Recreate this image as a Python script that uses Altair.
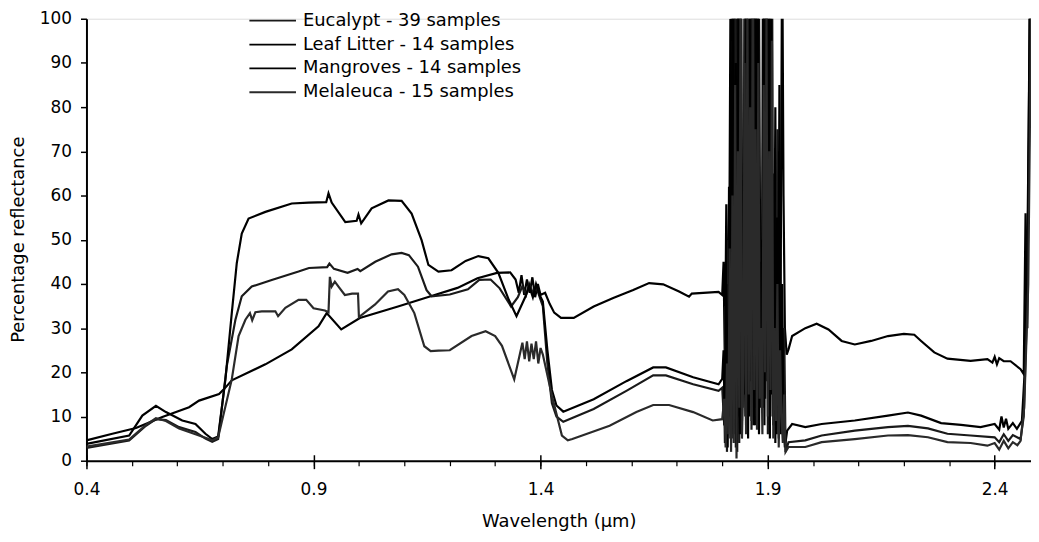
import altair as alt
import pandas as pd

# sample names as in the legend
names = ["Eucalypt - 39 samples", "Leaf Litter - 14 samples",
         "Mangroves - 14 samples", "Melaleuca - 15 samples"]

# wavelengths (um) of the noisy water band
noise_wl = [1.803, 1.806, 1.809, 1.812, 1.815, 1.818, 1.821, 1.824, 1.827, 1.830,
            1.833, 1.836, 1.839, 1.842, 1.845, 1.848, 1.851, 1.854, 1.857, 1.860,
            1.863, 1.866, 1.869, 1.872, 1.875, 1.878, 1.881, 1.884, 1.887, 1.890,
            1.893, 1.896, 1.899, 1.902, 1.905, 1.908, 1.911, 1.914, 1.917, 1.920,
            1.923, 1.926, 1.929, 1.932, 1.935, 1.938]
# the same band sampled half a step later (Eucalypt, Melaleuca)
noise_wl_alt = [1.8045, 1.8075, 1.8105, 1.8135, 1.8165, 1.8195, 1.8225, 1.8255, 1.8285, 1.8315,
                1.8345, 1.8375, 1.8405, 1.8435, 1.8465, 1.8495, 1.8525, 1.8555, 1.8585, 1.8615,
                1.8645, 1.8675, 1.8705, 1.8735, 1.8765, 1.8795, 1.8825, 1.8855, 1.8885, 1.8915,
                1.8945, 1.8975, 1.9005, 1.9035, 1.9065, 1.9095, 1.9125, 1.9155, 1.9185, 1.9215,
                1.9245, 1.9275, 1.9305, 1.9335, 1.9365, 1.9395]

# Eucalypt
euc_wl_1 = [0.40, 0.494, 0.531, 0.553, 0.575, 0.604, 0.64, 0.662, 0.677, 0.69,
            0.709, 0.728, 0.742, 0.764, 0.808, 0.867, 0.89, 0.93, 0.935, 0.945,
            0.975, 0.997, 1.003, 1.036, 1.072, 1.094, 1.11, 1.13, 1.149, 1.16,
            1.2, 1.24, 1.265, 1.29, 1.31, 1.335, 1.35, 1.36, 1.368, 1.375,
            1.383, 1.39, 1.398, 1.405, 1.415, 1.425, 1.435, 1.45, 1.517, 1.589,
            1.648, 1.676, 1.736, 1.792, 1.80]
euc_pct_1 = [2.9, 4.6, 7.9, 9.4, 9.2, 7.6, 6.5, 5.0, 4.3, 4.9,
             21.4, 31.9, 37.2, 39.4, 40.9, 42.8, 43.6, 43.8, 44.6, 43.4,
             42.5, 43.4, 42.9, 45.0, 46.7, 47.0, 46.5, 43.9, 38.6, 37.2,
             37.6, 38.8, 40.9, 41.0, 39.0, 34.9, 37.0, 39.5, 37.5, 40.0,
             38.0, 39.5, 37.0, 35.0, 22.0, 13.0, 10.0, 8.8, 11.7, 15.8,
             19.3, 19.3, 17.3, 15.8, 16.5]
euc_noise = [8, 35, 2, 50, 10, 28, 95, 6, 110, 14,
             102, 4, 85, 9, 30, 120, 8, 95, 22, 118,
             7, 90, 26, 140, 10, 100, 28, 12, 40, 105,
             14, 125, 6, 95, 25, 130, 8, 45, 14, 75,
             5, 50, 18, 8, 30, 2]
euc_wl_2 = [1.946, 1.983, 2.019, 2.092, 2.165, 2.209, 2.253, 2.296, 2.347, 2.40,
            2.41, 2.42, 2.43, 2.44, 2.457, 2.464, 2.47, 2.476, 2.48]
euc_pct_2 = [4.2, 4.6, 5.7, 6.8, 7.6, 7.9, 7.3, 6.1, 5.7, 5.3,
             4.2, 6.0, 4.5, 5.8, 4.9, 10.0, 30.0, 75.0, 105.0]

# Leaf litter
leaf_wl_1 = [0.40, 0.457, 0.509, 0.567, 0.626, 0.648, 0.692, 0.703, 0.72, 0.794,
             0.852, 0.911, 0.929, 0.961, 1.002, 1.086, 1.158, 1.217, 1.261, 1.304,
             1.333, 1.345, 1.352, 1.358, 1.364, 1.37, 1.376, 1.382, 1.388, 1.394,
             1.40, 1.41, 1.42, 1.43, 1.445, 1.473, 1.517, 1.560, 1.604, 1.639,
             1.670, 1.705, 1.727, 1.733, 1.792, 1.80]
leaf_pct_1 = [4.6, 6.1, 7.4, 9.9, 12.1, 13.6, 15.1, 16.2, 18.2, 21.8,
              25.2, 30.4, 33.4, 29.7, 32.3, 34.9, 37.2, 39.1, 41.3, 42.5,
              42.6, 41.0, 38.0, 42.0, 37.5, 41.0, 38.0, 41.5, 37.0, 40.0,
              37.5, 38.0, 35.5, 33.5, 32.3, 32.3, 34.9, 36.8, 38.6, 40.2,
              39.9, 38.3, 37.1, 37.8, 38.2, 37.5]
leaf_noise = [45, 20, 58, 8, 62, 5, 110, 12, 130, 3,
              120, 10, 140, 20, 40, 15, 150, 25, 120, 10,
              135, 30, 110, 8, 140, 20, 105, 35, 50, 12,
              130, 18, 115, 9, 125, 15, 60, 22, 80, 6,
              70, 15, 45, 120, 60, 30]
leaf_wl_2 = [1.942, 1.946, 1.954, 1.983, 2.008, 2.034, 2.063, 2.092, 2.128, 2.165,
             2.2, 2.223, 2.238, 2.267, 2.296, 2.347, 2.384, 2.395, 2.40, 2.405,
             2.41, 2.42, 2.435, 2.457, 2.464, 2.468, 2.472, 2.477]
leaf_pct_2 = [24.0, 25.2, 28.2, 30.0, 31.0, 29.7, 27.1, 26.3, 27.1, 28.2,
              28.7, 28.5, 27.1, 24.5, 23.1, 22.6, 23.0, 22.2, 23.5, 21.8,
              23.2, 22.5, 22.5, 20.7, 19.6, 56.0, 30.0, 105.0]

# Mangroves
mang_wl_1 = [0.40, 0.494, 0.523, 0.553, 0.575, 0.611, 0.64, 0.662, 0.677, 0.69,
             0.706, 0.72, 0.731, 0.742, 0.757, 0.794, 0.852, 0.889, 0.928, 0.933,
             0.94, 0.97, 0.995, 0.999, 1.005, 1.028, 1.065, 1.094, 1.116, 1.138,
             1.153, 1.175, 1.204, 1.235, 1.263, 1.285, 1.307, 1.33, 1.347, 1.367,
             1.375, 1.383, 1.39, 1.398, 1.405, 1.415, 1.425, 1.435, 1.45, 1.517,
             1.589, 1.648, 1.676, 1.736, 1.792, 1.80]
mang_pct_1 = [3.8, 5.7, 10.2, 12.4, 11.0, 9.1, 8.3, 6.1, 4.9, 5.5,
              18.4, 33.4, 44.7, 51.4, 54.8, 56.3, 58.2, 58.4, 58.5, 60.5,
              58.4, 54.0, 54.3, 55.7, 53.7, 57.1, 58.9, 58.8, 55.9, 49.9,
              44.3, 42.8, 43.1, 45.2, 46.3, 45.8, 42.5, 36.4, 32.7, 37.2,
              39.5, 37.0, 40.0, 37.5, 36.0, 25.0, 16.0, 12.5, 11.1, 13.9,
              18.0, 21.1, 21.1, 18.9, 17.3, 18.5]
mang_noise = [25, 4, 40, 3, 35, 100, 5, 115, 8, 90,
              2, 125, 6, 105, 12, 55, 10, 140, 5, 100,
              18, 130, 8, 115, 12, 125, 6, 45, 15, 120,
              8, 110, 20, 135, 5, 100, 10, 65, 4, 55,
              12, 85, 6, 40, 8, 3]
mang_wl_2 = [1.943, 1.954, 1.983, 2.019, 2.092, 2.165, 2.209, 2.238, 2.282, 2.326,
             2.369, 2.40, 2.41, 2.415, 2.42, 2.425, 2.43, 2.44, 2.449, 2.46,
             2.466, 2.472, 2.478]
mang_pct_2 = [6.8, 8.3, 7.6, 8.3, 9.1, 10.2, 10.9, 10.2, 8.5, 8.1,
              7.6, 8.3, 7.0, 10.0, 7.5, 9.5, 7.2, 8.5, 7.2, 9.0,
              20.0, 48.0, 105.0]

# Melaleuca
mel_wl_1 = [0.40, 0.494, 0.531, 0.553, 0.575, 0.604, 0.64, 0.662, 0.677, 0.69,
            0.72, 0.735, 0.75, 0.76, 0.765, 0.772, 0.786, 0.816, 0.822, 0.838,
            0.867, 0.884, 0.90, 0.925, 0.933, 0.936, 0.94, 0.947, 0.955, 0.969,
            0.985, 0.998, 1.0, 1.035, 1.064, 1.086, 1.1, 1.122, 1.144, 1.158,
            1.175, 1.2, 1.248, 1.279, 1.3, 1.315, 1.342, 1.36, 1.365, 1.37,
            1.375, 1.38, 1.385, 1.39, 1.395, 1.40, 1.405, 1.425, 1.447, 1.46,
            1.47, 1.552, 1.611, 1.648, 1.683, 1.736, 1.779, 1.80]
mel_pct_1 = [3.2, 4.8, 8.1, 9.6, 9.0, 7.3, 6.0, 5.2, 4.6, 5.3,
             18.4, 28.2, 31.9, 33.4, 31.8, 33.6, 33.8, 33.8, 32.7, 34.6,
             36.4, 36.4, 34.5, 34.0, 33.6, 41.6, 39.4, 40.5, 39.4, 37.5,
             37.8, 37.8, 32.5, 35.3, 38.3, 38.8, 37.5, 33.4, 25.9, 24.8,
             24.9, 25.0, 28.2, 29.3, 28.2, 26.0, 18.4, 26.7, 23.0, 27.0,
             22.5, 26.5, 23.0, 27.0, 22.0, 25.5, 24.0, 14.7, 5.7, 4.6,
             4.9, 7.9, 11.0, 12.6, 12.6, 11.0, 9.1, 9.4]
mel_noise = [14, 3, 22, 6, 48, 2, 60, 4, 85, 0.5,
             70, 12, 115, 5, 20, 90, 6, 105, 15, 80,
             9, 125, 16, 75, 7, 90, 14, 30, 6, 85,
             20, 100, 10, 70, 16, 95, 5, 30, 9, 40,
             3, 25, 10, 4, 15, 2]
mel_wl_2 = [1.946, 1.983, 2.019, 2.092, 2.165, 2.209, 2.253, 2.296, 2.347, 2.384,
            2.40, 2.41, 2.42, 2.43, 2.44, 2.45, 2.457, 2.465, 2.474, 2.48]
mel_pct_2 = [3.1, 3.1, 4.2, 4.9, 5.7, 5.8, 5.3, 4.2, 4.0, 3.4,
             4.0, 2.5, 4.5, 2.8, 4.2, 3.5, 4.5, 12.0, 40.0, 100.0]

major_ticks = [0.4, 0.9, 1.4, 1.9, 2.4]
minor_ticks = [0.4, 0.5, 0.6, 0.7, 0.8, 0.9, 1.0, 1.1, 1.2, 1.3, 1.4,
               1.5, 1.6, 1.7, 1.8, 1.9, 2.0, 2.1, 2.2, 2.3, 2.4]
y_ticks = [0, 10, 20, 30, 40, 50, 60, 70, 80, 90, 100]

series = [
    (names[0], euc_wl_1, euc_pct_1, noise_wl_alt, euc_noise, euc_wl_2, euc_pct_2),
    (names[1], leaf_wl_1, leaf_pct_1, noise_wl, leaf_noise, leaf_wl_2, leaf_pct_2),
    (names[2], mang_wl_1, mang_pct_1, noise_wl, mang_noise, mang_wl_2, mang_pct_2),
    (names[3], mel_wl_1, mel_pct_1, noise_wl_alt, mel_noise, mel_wl_2, mel_pct_2),
]
frames = []
for name, wl1, p1, nwl, noise, wl2, p2 in series:
    frames.append(pd.DataFrame({
        "wavelength": wl1 + nwl + wl2,
        "reflectance": p1 + noise + p2,
        "sample": name,
    }))
data = pd.concat(frames, ignore_index=True)

FONT = "DejaVu Sans"

x_scale = alt.Scale(domain=[0.4, 2.48], nice=False, zero=False)
y_scale = alt.Scale(domain=[0, 100], nice=False)

y_axis = alt.Axis(
    values=y_ticks, tickSize=6, tickWidth=1.5, tickColor="black",
    domainColor="black", domainWidth=2, grid=False,
    labelFont=FONT, labelFontSize=17, labelColor="black", labelPadding=9,
    title="Percentage reflectance", titleFont=FONT, titleFontSize=18,
    titleFontWeight="normal", titleColor="black", titleAngle=270,
    titleX=-68, titleY=222, titleBaseline="middle", titleAlign="center",
)

# labelled, longer ticks that cross the axis line
major_axis = alt.Axis(
    values=major_ticks, format=".1f", orient="bottom", offset=-6,
    domain=False, tickSize=14, tickWidth=1.5, tickColor="black", grid=False,
    labelFont=FONT, labelFontSize=17, labelColor="black", labelPadding=13,
    labelFlush=False,
    title="Wavelength (µm)", titleFont=FONT, titleFontSize=18,
    titleFontWeight="normal", titleColor="black", titleY=67,
    titleBaseline="middle",
)

# small ticks every 0.1 with the axis line
minor_axis = alt.Axis(
    values=minor_ticks, orient="bottom", labels=False, title=None,
    domainColor="black", domainWidth=2, tickSize=5, tickWidth=1.2,
    tickColor="black", grid=False,
)

color = alt.Color(
    "sample:N",
    scale=alt.Scale(domain=names, range=["#1a1a1a", "#000000", "#000000", "#2a2a2a"]),
    legend=alt.Legend(
        title=None, orient="none", legendX=163, legendY=-7,
        symbolType="stroke", symbolSize=2200, symbolStrokeWidth=1.8,
        clipHeight=18, rowPadding=6, padding=0, labelLimit=400,
        labelFont=FONT, labelFontSize=18, labelColor="black", labelOffset=6,
    ),
)

base = alt.Chart(data).mark_line(strokeWidth=2.2, clip=True)

litter = base.encode(
    x=alt.X("wavelength:Q", scale=x_scale, axis=major_axis),
    y=alt.Y("reflectance:Q", scale=y_scale, axis=y_axis),
    color=color,
    detail="sample:N",
).transform_filter(alt.datum.sample == names[1])

leaves = base.encode(
    x=alt.X("wavelength:Q", scale=x_scale, axis=minor_axis),
    y=alt.Y("reflectance:Q", scale=y_scale, axis=y_axis),
    color=color,
    detail="sample:N",
).transform_filter(alt.datum.sample != names[1])

chart = alt.layer(litter, leaves).resolve_axis(x="independent").properties(
    width=951,
    height=445,
    autosize=alt.AutoSizeParams(type="none"),
    padding={"left": 79, "top": 9, "right": 0, "bottom": 75},
).configure_view(stroke=None).configure(background="white")

chart.save("out.html", embed_options={"renderer": "svg", "actions": False})
